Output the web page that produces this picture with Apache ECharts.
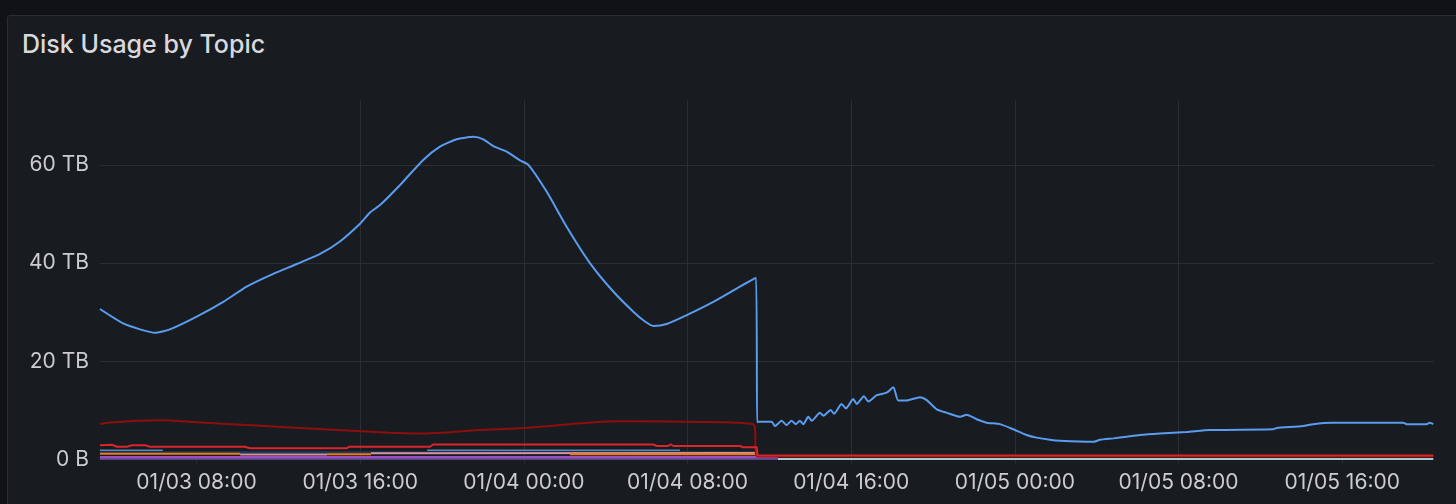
<!DOCTYPE html>
<html>
<head>
<meta charset="utf-8">
<script src="https://cdn.jsdelivr.net/npm/echarts@6/dist/echarts.min.js"></script>
<style>
  html, body { margin:0; padding:0; background:#111217; width:1456px; height:504px; overflow:hidden; }
  #panel { position:absolute; left:7px; top:15px; width:1470px; height:520px; background:#181b1f; border:1px solid #2a2d33; border-radius:3px; box-sizing:border-box; }
  #title { position:absolute; left:22px; top:29px; font-family:Inter, "Noto Sans", sans-serif; font-size:25px; font-weight:500; color:#d8d9de; line-height:30px; }
  #chart { position:absolute; left:0; top:0; width:1456px; height:504px; }
</style>
</head>
<body>
<div id="panel"></div>
<div id="title">Disk Usage by Topic</div>
<div id="chart"></div>
<script>
// Times are hours since 01/03 00:00; values in TB
const rangeStartH = 3.283;
const rangeEndH = 68.45;
const tickHours = [8, 16, 24, 32, 40, 48, 56, 64];
const yTicks = [0, 20, 40, 60];

const blueTimes = [3.28,4.42,5.24,5.97,6.70,8.01,9.31,10.45,11.75,12.90,14.04,15.01,15.99,16.48,16.97,17.95,19.08,19.90,20.72,21.53,22.02,22.51,23.16,23.81,24.22,25.12,26.09,27.23,28.37,29.35,29.92,30.33,30.98,31.96,33.26,34.56,35.35,35.40,35.45,36.11,36.27,36.60,36.84,37.08,37.30,37.49,37.66,37.90,38.07,38.47,38.64,39.00,39.16,39.53,39.74,40.10,40.27,40.62,40.84,41.25,41.73,42.06,42.30,42.71,43.36,43.69,44.18,44.67,45.32,45.64,46.13,46.62,47.27,47.92,48.57,49.06,49.71,50.20,51.83,52.16,52.81,53.46,54.11,55.09,56.39,57.53,60.62,60.79,62.09,62.58,63.48,66.98,67.15,68.12,68.28,68.45];
const blueValues = [30.65,27.7,26.5,25.8,26.5,29.1,32.1,35.2,37.8,39.8,41.85,44.4,48.0,50.3,51.8,55.9,61.0,63.7,65.2,65.7,65.2,63.8,62.7,60.9,60.0,54.5,47.4,40.0,34.2,30.1,28.1,27.2,27.6,29.4,32.1,35.2,37.0,7.6,7.7,7.7,6.8,7.9,7.0,7.9,7.2,7.9,7.2,8.7,7.9,9.5,8.9,10.1,9.3,11.3,10.4,12.3,11.3,12.9,11.8,13.1,13.6,14.7,12.0,12.0,12.7,12.1,10.2,9.5,8.7,9.1,8.2,7.5,7.2,6.15,5.0,4.45,4.0,3.8,3.6,4.0,4.3,4.65,5.0,5.3,5.6,6.0,6.15,6.4,6.8,7.2,7.5,7.5,7.2,7.2,7.5,7.2];

const darkRedTimes = [3.28,3.77,6.22,8.01,10.94,14.20,17.46,18.92,21.86,23.81,28.70,31.96,35.21,35.42,68.45];
const darkRedValues = [7.2,7.55,8.0,7.6,6.9,6.15,5.45,5.3,6.0,6.35,7.8,7.7,7.2,0.6,0.6];

const redTimes = [3.28,3.87,4.11,4.60,4.85,5.48,5.73,10.37,10.61,15.35,15.45,19.41,19.56,30.31,30.51,31.05,31.18,31.31,34.56,34.72,35.38,35.42,68.45];
const redValues = [2.9,3.0,2.6,2.6,2.9,2.9,2.6,2.6,2.3,2.3,2.6,2.6,3.05,3.05,2.75,2.75,3.1,2.75,2.75,2.5,2.5,0.8,0.8];

const navyTimes = [3.28,35.39];
const navyValues = [1.5,1.5];

const steelTimes = [3.28,6.35,12.8,19.27,31.63];
const steelValues = [1.9,1.9,null,1.9,1.9];

const orangeTimes = [3.28,10.13,12.0,14.38,16.53,20.0,26.25,35.39];
const orangeValues = [1.15,1.15,null,1.05,1.05,null,1.05,1.05];

const pinkTimes = [10.13,14.38,15.0,16.53,35.39];
const pinkValues = [1.0,1.0,null,1.25,1.3];

const purpleTimes = [3.28,36.42];
const purpleValues = [0.5,0.5];

const violetTimes = [3.28,36.42];
const violetValues = [0.15,0.15];

const tealTimes = [36.42,68.45];
const tealValues = [0.1,0.1];

const pad = n => String(n).padStart(2, '0');
const fmtHour = h => {
  const day = 3 + Math.floor(h / 24);
  const hr = Math.round(h - Math.floor(h / 24) * 24);
  return '01/' + pad(day) + ' ' + pad(hr) + ':00';
};
const pairs = (ts, vs) => ts.map((t, i) => [t, vs[i]]);

function line(name, ts, vs, color, width, z, smooth) {
  return { name, type:'line', data: pairs(ts, vs), showSymbol:false, connectNulls:false,
    smooth: smooth || false,
    lineStyle:{ color, width }, itemStyle:{ color }, z: z || 2, silent:true };
}

const chart = echarts.init(document.getElementById('chart'), null, { renderer:'canvas' });
const font = 'Inter, "Noto Sans", sans-serif';
chart.setOption({
  backgroundColor:'transparent',
  animation:false,
  grid:{ left:100, right:22.7, top:100, bottom:44.5, containLabel:false },
  xAxis:{
    type:'value', min:rangeStartH, max:rangeEndH,
    axisLine:{ show:false },
    axisTick:{ show:true, length:4, lineStyle:{ color:'#2c2e34' }, customValues: tickHours },
    axisLabel:{ color:'#ccccd6', fontSize:21, fontFamily:font, margin:13, customValues: tickHours, formatter: v => fmtHour(v), hideOverlap:false },
    splitLine:{ show:true, showMinLine:false, showMaxLine:false, lineStyle:{ color:'#2c2e34', width:1 } }
  },
  yAxis:{
    type:'value', min:0, max:73.2, interval:20,
    axisLine:{ show:false }, axisTick:{ show:false },
    axisLabel:{ color:'#ccccd6', fontSize:21, fontFamily:font, margin:11, showMaxLabel:false,
      formatter: v => yTicks.includes(v) ? (v === 0 ? '0 B' : v + ' TB') : '' },
    splitLine:{ show:true, showMaxLine:false, lineStyle:{ color:'#2c2e34', width:1 } }
  },
  series:[
    line('violet', violetTimes, violetValues, '#6A4C9C', 2, 2),
    line('purple', purpleTimes, purpleValues, '#9A4FC0', 2, 3),
    line('teal', tealTimes, tealValues, '#A6C8CC', 2, 3),
    line('navy', navyTimes, navyValues, '#1C3A62', 2, 3),
    line('pink', pinkTimes, pinkValues, '#D8909E', 2, 4),
    line('orange', orangeTimes, orangeValues, '#F07814', 2, 5),
    line('steel', steelTimes, steelValues, '#5B88B8', 1.5, 5),
    line('darkred', darkRedTimes, darkRedValues, '#8E0E0E', 2, 6, 0.3),
    line('red', redTimes, redValues, '#D9262B', 2, 7),
    line('blue', blueTimes, blueValues, '#5A9CF0', 2, 8, 0.2)
  ]
});
</script>
</body>
</html>
